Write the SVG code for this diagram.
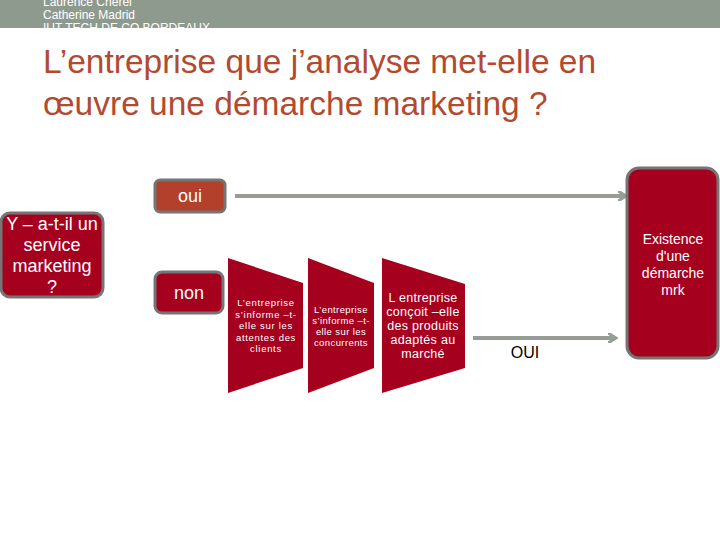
<svg xmlns="http://www.w3.org/2000/svg" width="720" height="540" viewBox="0 0 720 540">
<defs>
<clipPath id="hdr"><rect x="0" y="0" width="720" height="28"/></clipPath>
<marker id="ah" markerWidth="10" markerHeight="10" refX="6" refY="5" orient="auto" markerUnits="userSpaceOnUse">
<path d="M0,0 L8,5 L0,10" fill="none" stroke="#959e96" stroke-width="3"/>
</marker>
</defs>
<style>
.w{fill:#fff;font-family:"Liberation Sans",Arial,sans-serif;text-anchor:middle}
.box{fill:#a6001f;stroke:#757575;stroke-width:3}
.shape{fill:#a6001f}
.conn{stroke:#959e96;stroke-width:4;fill:none}
</style>
<rect x="0" y="0" width="720" height="28" fill="#8f9a8e"/>
<g clip-path="url(#hdr)" font-family="'Liberation Sans',Arial,sans-serif" font-size="12" fill="#fff">
<text x="43" y="6">Laurence Cherel</text>
<text x="43" y="19">Catherine Madrid</text>
<text x="43" y="32">IUT TECH DE CO BORDEAUX</text>
</g>
<g font-family="'Liberation Sans',Arial,sans-serif" font-size="33.5" fill="#b34a30">
<text x="43" y="73">L’entreprise que j’analyse met-elle en</text>
<text x="43" y="115">œuvre une démarche marketing ?</text>
</g>
<g id="connectors">
<line class="conn" x1="235" y1="196" x2="624" y2="196" marker-end="url(#ah)"/>
<line class="conn" x1="473" y1="338" x2="614" y2="338" marker-end="url(#ah)"/>
</g>
<g id="oui">
<rect x="155" y="180" width="70" height="32" rx="5" fill="#b3402a" stroke="#757575" stroke-width="3"/>
<text class="w" x="190" y="202" font-size="18">oui</text>
</g>
<g id="question">
<rect class="box" x="1" y="213" width="102" height="84" rx="9"/>
<g class="w" font-size="18">
<text x="52" y="230">Y – a-t-il un</text>
<text x="52" y="251">service</text>
<text x="52" y="272">marketing</text>
<text x="52" y="293">?</text>
</g>
</g>
<g id="non">
<rect class="box" x="155" y="272" width="68" height="41" rx="7"/>
<text class="w" x="189" y="299" font-size="18">non</text>
</g>
<g id="step1">
<polygon class="shape" points="228,258 303,283 303,368 228,393"/>
<g class="w" font-size="9.5" letter-spacing="0.7">
<text x="266" y="306">L’entreprise</text>
<text x="266" y="318">s’informe –t-</text>
<text x="266" y="329">elle sur les</text>
<text x="266" y="341">attentes des</text>
<text x="266" y="352">clients</text>
</g>
</g>
<g id="step2">
<polygon class="shape" points="308,258 374,283 374,368 308,393"/>
<g class="w" font-size="9.5" letter-spacing="0.4">
<text x="341" y="313">L’entreprise</text>
<text x="341" y="324">s’informe –t-</text>
<text x="341" y="335">elle sur les</text>
<text x="341" y="346">concurrents</text>
</g>
</g>
<g id="step3">
<polygon class="shape" points="382,258 465,284 465,368 382,393"/>
<g class="w" font-size="12.5" letter-spacing="0.3">
<text x="423" y="302">L entreprise</text>
<text x="423" y="316">conçoit –elle</text>
<text x="423" y="330">des produits</text>
<text x="423" y="344">adaptés au</text>
<text x="423" y="358">marché</text>
</g>
</g>
<text x="525" y="358" font-family="'Liberation Sans',Arial,sans-serif" font-size="16" fill="#000" text-anchor="middle">OUI</text>
<g id="result">
<rect class="box" x="627" y="168" width="91" height="190" rx="12"/>
<g class="w" font-size="14">
<text x="673" y="244">Existence</text>
<text x="673" y="261">d'une</text>
<text x="673" y="278">démarche</text>
<text x="673" y="295">mrk</text>
</g>
</g>
</svg>
